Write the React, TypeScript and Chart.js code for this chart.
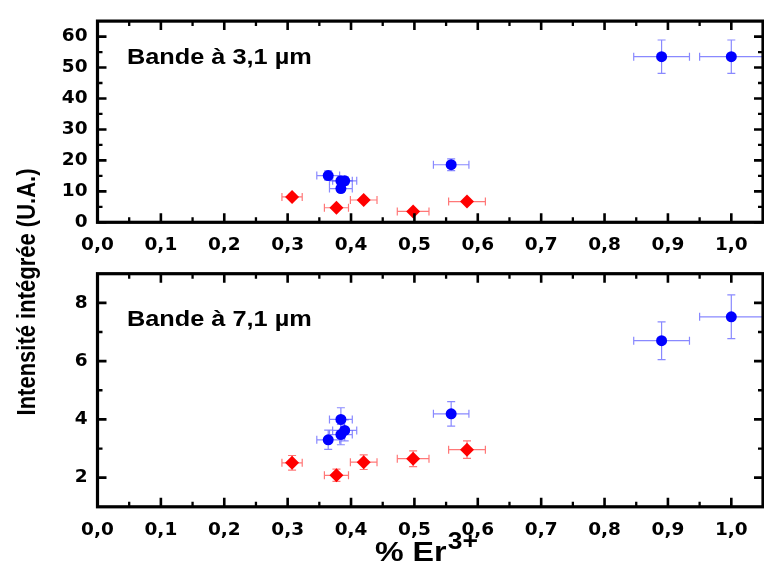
import React, { useEffect, useRef } from "react";
import { Chart, registerables } from "chart.js";
Chart.register(...registerables);

// ---------- data ----------
const xTickValues = [0, 0.1, 0.2, 0.3, 0.4, 0.5, 0.6, 0.7, 0.8, 0.9, 1.0];
const yTickValuesTop = [0, 10, 20, 30, 40, 50, 60];
const yTickValuesBottom = [2, 4, 6, 8];

const blueX = [0.364, 0.384, 0.39, 0.384, 0.558, 0.89, 1.0];
const blueXErr = [0.018, 0.018, 0.019, 0.018, 0.028, 0.044, 0.05];
const blueTop = [15.1, 13.4, 13.4, 10.9, 18.6, 53.5, 53.5];
const blueTopErr = [1.5, 1.3, 1.3, 1.1, 1.9, 5.4, 5.4];
const blueBottom = [3.3, 3.48, 3.62, 4.0, 4.19, 6.7, 7.52];
const blueBottomErr = [0.33, 0.35, 0.36, 0.4, 0.42, 0.65, 0.75];

const redX = [0.307, 0.377, 0.42, 0.498, 0.583];
const redXErr = [0.016, 0.019, 0.021, 0.025, 0.029];
const redTop = [8.2, 4.7, 7.2, 3.5, 6.7];
const redTopErr = [0.8, 0.5, 0.7, 0.4, 0.7];
const redBottom = [2.51, 2.08, 2.53, 2.65, 2.96];
const redBottomErr = [0.25, 0.21, 0.25, 0.27, 0.3];

const topLabel = "Bande à 3,1 µm";
const bottomLabel = "Bande à 7,1 µm";
const yTitle = "Intensité intégrée (U.A.)";
const xTitleMain = "% Er";
const xTitleSup = "3+";

// ---------- styling ----------
const W = 770;
const H = 572;
const TICK_FONT = { family: "'DejaVu Sans'", size: 18.5, weight: "bold" as const };
const TEXT_FAMILY = "'Liberation Sans', Arial, sans-serif";
const STRETCH = 1.15;
const BLUE = "#0000ff";
const RED = "#ff0000";
const BLUE_ERR = "rgba(40,40,255,0.55)";
const RED_ERR = "rgba(255,30,30,0.6)";

function fmtX(v: number) {
  return v.toFixed(1).replace(".", ",");
}

function stretchedText(ctx: CanvasRenderingContext2D, text: string, x: number, y: number, font: string) {
  ctx.save();
  ctx.font = font;
  ctx.fillStyle = "#000";
  ctx.textAlign = "left";
  ctx.textBaseline = "alphabetic";
  ctx.translate(x, y);
  ctx.scale(STRETCH, 1);
  ctx.fillText(text, 0, 0);
  ctx.restore();
}

const framePlugin = {
  id: "frame",
  beforeDatasetsDraw(chart: any) {
    const ctx: CanvasRenderingContext2D = chart.ctx;
    const area = chart.chartArea;
    const xs = chart.scales.x;
    const ys = chart.scales.y;
    ctx.save();
    ctx.beginPath();
    ctx.rect(area.left, area.top, area.right - area.left, area.bottom - area.top);
    ctx.clip();
    chart.data.datasets.forEach((ds: any) => {
      ctx.strokeStyle = ds.errColor;
      ctx.lineWidth = 1.2;
      ds.data.forEach((p: any, i: number) => {
        const px = xs.getPixelForValue(p.x);
        const py = ys.getPixelForValue(p.y);
        const x1 = xs.getPixelForValue(p.x - ds.xErr[i]);
        const x2 = xs.getPixelForValue(p.x + ds.xErr[i]);
        const y1 = ys.getPixelForValue(p.y - ds.yErr[i]);
        const y2 = ys.getPixelForValue(p.y + ds.yErr[i]);
        const c = 4;
        ctx.beginPath();
        ctx.moveTo(x1, py); ctx.lineTo(x2, py);
        ctx.moveTo(x1, py - c); ctx.lineTo(x1, py + c);
        ctx.moveTo(x2, py - c); ctx.lineTo(x2, py + c);
        ctx.moveTo(px, y1); ctx.lineTo(px, y2);
        ctx.moveTo(px - c, y1); ctx.lineTo(px + c, y1);
        ctx.moveTo(px - c, y2); ctx.lineTo(px + c, y2);
        ctx.stroke();
      });
    });
    ctx.restore();
  },
  afterDraw(chart: any, _args: any, opts: any) {
    const ctx: CanvasRenderingContext2D = chart.ctx;
    const a = chart.chartArea;
    const xs = chart.scales.x;
    const ys = chart.scales.y;
    ctx.save();
    ctx.strokeStyle = "#000";
    ctx.lineCap = "butt";
    const major = 9;
    const minor = 5;
    const drawX = (v: number, len: number) => {
      const px = xs.getPixelForValue(v);
      ctx.beginPath();
      ctx.moveTo(px, a.bottom); ctx.lineTo(px, a.bottom - len);
      ctx.moveTo(px, a.top); ctx.lineTo(px, a.top + len);
      ctx.stroke();
    };
    const drawY = (v: number, len: number) => {
      const py = ys.getPixelForValue(v);
      ctx.beginPath();
      ctx.moveTo(a.left, py); ctx.lineTo(a.left + len, py);
      ctx.moveTo(a.right, py); ctx.lineTo(a.right - len, py);
      ctx.stroke();
    };
    ctx.lineWidth = 2.6;
    xTickValues.forEach((v) => drawX(v, major));
    opts.yTicks.forEach((v: number) => drawY(v, major));
    ctx.lineWidth = 2.3;
    xTickValues.forEach((v) => {
      const m = v + 0.05;
      if (m < xs.max - 1e-6) drawX(m, minor);
    });
    const yStep = opts.yTicks[1] - opts.yTicks[0];
    const yMinors: number[] = [];
    for (let k = -1; k < opts.yTicks.length; k++) {
      const m = (k < 0 ? opts.yTicks[0] - yStep : opts.yTicks[k]) + yStep / 2;
      if (m > ys.min + 1e-6 && m < ys.max - 1e-6) yMinors.push(m);
    }
    yMinors.forEach((v) => drawY(v, minor));
    ctx.lineWidth = 3.2;
    ctx.strokeRect(a.left, a.top, a.right - a.left, a.bottom - a.top);
    ctx.restore();

    stretchedText(ctx, opts.label, 127, opts.labelBaseline, `bold 22px ${TEXT_FAMILY}`);

    if (opts.drawYTitle) {
      ctx.save();
      ctx.fillStyle = "#000";
      ctx.font = `bold 22px ${TEXT_FAMILY}`;
      ctx.textAlign = "center";
      ctx.textBaseline = "middle";
      ctx.translate(28, 292);
      ctx.scale(STRETCH, 1);
      ctx.rotate(-Math.PI / 2);
      ctx.fillText(yTitle, 0, 0);
      ctx.restore();
    }
    if (opts.drawXTitle) {
      ctx.save();
      ctx.fillStyle = "#000";
      ctx.textAlign = "left";
      ctx.textBaseline = "alphabetic";
      ctx.translate(375, 561);
      ctx.scale(STRETCH, 1);
      ctx.font = `bold 28px ${TEXT_FAMILY}`;
      ctx.fillText(xTitleMain, 0, 0);
      const w = ctx.measureText(xTitleMain).width;
      ctx.font = `bold 23px ${TEXT_FAMILY}`;
      ctx.fillText(xTitleSup, w + 1, -12);
      ctx.restore();
    }
  },
};

function makeConfig(p: {
  blueY: number[];
  blueYErr: number[];
  redY: number[];
  redYErr: number[];
  yMin: number;
  yMax: number;
  yTicks: number[];
  padTop: number;
  padBottom: number;
  xAxisHeight: number;
  label: string;
  labelBaseline: number;
  drawYTitle: boolean;
  drawXTitle: boolean;
}): any {
  return {
    type: "scatter",
    data: {
      datasets: [
        {
          data: redX.map((x, i) => ({ x, y: p.redY[i] })),
          xErr: redXErr,
          yErr: p.redYErr,
          errColor: RED_ERR,
          pointStyle: "rectRot",
          pointRadius: 7,
          backgroundColor: RED,
          borderColor: RED,
          borderWidth: 0,
        },
        {
          data: blueX.map((x, i) => ({ x, y: p.blueY[i] })),
          xErr: blueXErr,
          yErr: p.blueYErr,
          errColor: BLUE_ERR,
          pointStyle: "circle",
          pointRadius: 5.5,
          backgroundColor: BLUE,
          borderColor: BLUE,
          borderWidth: 0,
        },
      ],
    },
    options: {
      responsive: false,
      animation: false,
      devicePixelRatio: 1,
      events: [],
      layout: { padding: { top: p.padTop, bottom: p.padBottom, left: 0, right: 3.6 } },
      plugins: {
        legend: { display: false },
        tooltip: { enabled: false },
        frame: {
          yTicks: p.yTicks,
          label: p.label,
          labelBaseline: p.labelBaseline,
          drawYTitle: p.drawYTitle,
          drawXTitle: p.drawXTitle,
        },
      },
      scales: {
        x: {
          type: "linear",
          min: 0,
          max: 1.05,
          afterBuildTicks: (s: any) => {
            s.ticks = xTickValues.map((v) => ({ value: v }));
          },
          afterFit: (s: any) => {
            s.height = p.xAxisHeight;
          },
          grid: { display: false, drawTicks: false },
          border: { display: false },
          ticks: {
            font: TICK_FONT,
            color: "#000",
            padding: 12,
            autoSkip: false,
            maxRotation: 0,
            callback: (v: any) => fmtX(Number(v)),
          },
        },
        y: {
          type: "linear",
          min: p.yMin,
          max: p.yMax,
          afterBuildTicks: (s: any) => {
            s.ticks = p.yTicks.map((v) => ({ value: v }));
          },
          afterFit: (s: any) => {
            s.width = 97.5;
          },
          grid: { display: false, drawTicks: false },
          border: { display: false },
          ticks: {
            font: TICK_FONT,
            color: "#000",
            padding: 10,
            autoSkip: false,
            callback: (v: any) => String(v),
          },
        },
      },
    },
    plugins: [framePlugin],
  };
}

export default function App() {
  const topRef = useRef<HTMLCanvasElement>(null);
  const botRef = useRef<HTMLCanvasElement>(null);
  useEffect(() => {
    const top = new Chart(
      topRef.current!,
      makeConfig({
        blueY: blueTop,
        blueYErr: blueTopErr,
        redY: redTop,
        redYErr: redTopErr,
        yMin: 0,
        yMax: 65,
        yTicks: yTickValuesTop,
        padTop: 15,
        padBottom: H - 262,
        xAxisHeight: 262 - 222.3,
        label: topLabel,
        labelBaseline: 64,
        drawYTitle: true,
        drawXTitle: false,
      })
    );
    const bottom = new Chart(
      botRef.current!,
      makeConfig({
        blueY: blueBottom,
        blueYErr: blueBottomErr,
        redY: redBottom,
        redYErr: redBottomErr,
        yMin: 1,
        yMax: 9,
        yTicks: yTickValuesBottom,
        padTop: 273.7,
        padBottom: 0,
        xAxisHeight: H - 506.8,
        label: bottomLabel,
        labelBaseline: 326,
        drawYTitle: false,
        drawXTitle: true,
      })
    );
    return () => {
      top.destroy();
      bottom.destroy();
    };
  }, []);
  const cs: React.CSSProperties = { position: "absolute", left: 0, top: 0, width: W, height: H };
  return (
    <div style={{ position: "fixed", left: 0, top: 0, width: 764, height: 572, overflow: "hidden", background: "#fff" }}>
      <canvas ref={topRef} width={W} height={H} style={cs} />
      <canvas ref={botRef} width={W} height={H} style={cs} />
    </div>
  );
}
